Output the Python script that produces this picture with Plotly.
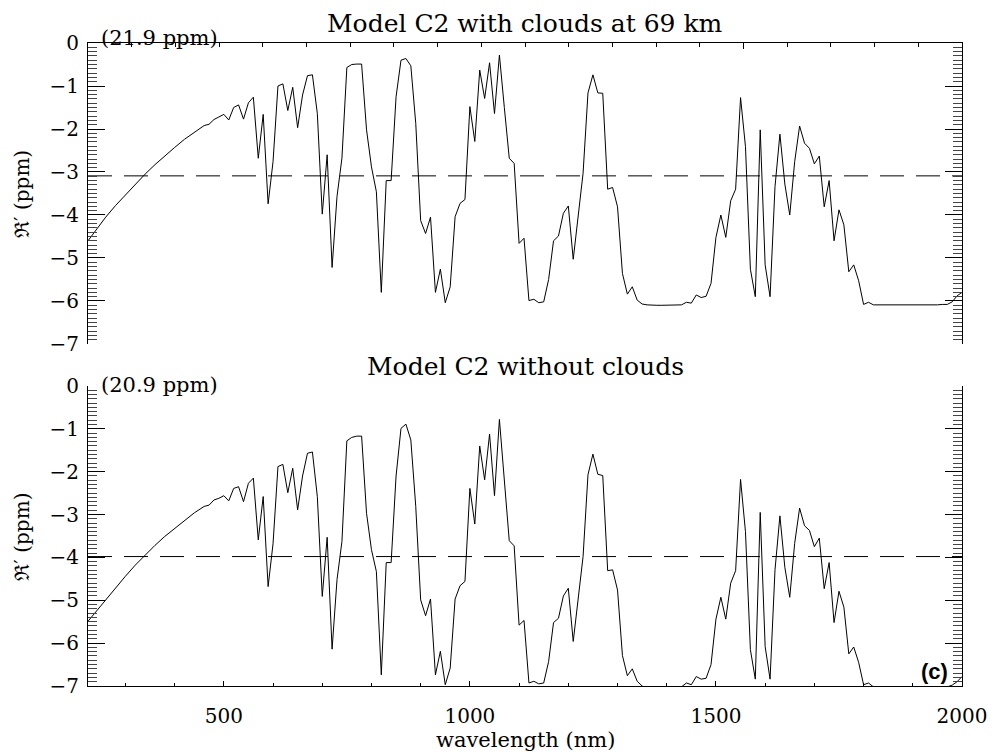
import plotly.graph_objects as go

# wavelength grid (nm): smooth part read at coarser steps, then ~10 nm sampling
wavelength = [224, 240, 260, 280, 300, 320, 340, 360, 380, 400, 420, 440, 460, 470, 480, 490, 500] + list(range(510, 2001, 10))

# Model C2 with clouds at 69 km (ppm)
with_clouds = [
    -4.60, -4.35, -4.05, -3.78, -3.53, -3.28, -3.05, -2.83, -2.62, -2.43, -2.24, -2.07, -1.92, -1.89, -1.78, -1.72, -1.66,
    -1.79, -1.50, -1.44, -1.77, -1.39, -1.26, -2.68, -1.66, -3.74, -2.76,
    -1.00, -0.95, -1.57, -1.03, -1.97, -1.21, -0.76, -0.74, -1.64, -3.98,
    -2.60, -5.22, -3.57, -2.68, -0.57, -0.50, -0.49, -0.49, -2.02, -2.88,
    -3.46, -5.80, -3.20, -3.20, -1.25, -0.40, -0.36, -0.53, -1.87, -4.13,
    -4.43, -4.05, -5.80, -5.26, -6.04, -5.67, -4.04, -3.73, -3.64, -1.48,
    -2.29, -0.63, -1.29, -0.46, -1.64, -0.28, -1.50, -2.68, -2.80, -4.66,
    -4.54, -5.99, -5.96, -6.04, -6.02, -5.50, -4.60, -4.49, -3.96, -3.79,
    -5.03, -4.04, -3.03, -1.16, -0.74, -1.16, -1.17, -3.40, -3.36, -3.81,
    -5.36, -5.84, -5.67, -5.98, -6.07, -6.09, -6.10, -6.10, -6.10, -6.10,
    -6.10, -6.09, -6.09, -6.03, -6.05, -5.86, -5.92, -5.89, -5.59, -4.52,
    -4.00, -4.52, -3.67, -3.40, -1.27, -2.41, -5.26, -5.90, -2.02, -5.16,
    -5.90, -3.34, -2.12, -3.28, -4.00, -2.76, -1.93, -2.33, -2.45, -2.81,
    -2.63, -3.81, -3.20, -4.60, -3.88, -4.23, -5.32, -5.16, -5.53, -6.08,
    -6.03, -6.09, -6.09, -6.10, -6.10, -6.10, -6.09, -6.09, -6.10, -6.10,
    -6.10, -6.09, -6.09, -6.09, -6.09, -6.08, -6.08, -6.02, -5.88, -5.80,
]

# Model C2 without clouds (ppm)
without_clouds = [
    -5.49, -5.27, -4.98, -4.70, -4.44, -4.18, -3.94, -3.72, -3.51, -3.32, -3.13, -2.96, -2.81, -2.78, -2.66, -2.62, -2.56,
    -2.68, -2.39, -2.35, -2.70, -2.27, -2.15, -3.59, -2.58, -4.68, -3.68,
    -1.88, -1.83, -2.49, -1.92, -2.89, -2.10, -1.57, -1.54, -2.58, -4.91,
    -3.53, -6.14, -4.52, -3.63, -1.28, -1.20, -1.17, -1.17, -2.97, -3.82,
    -4.33, -6.74, -4.12, -4.12, -2.10, -0.99, -0.89, -1.26, -2.81, -4.99,
    -5.36, -4.97, -6.74, -6.19, -6.97, -6.58, -4.97, -4.66, -4.56, -2.39,
    -3.22, -1.40, -2.19, -1.12, -2.56, -0.78, -2.15, -3.61, -3.73, -5.58,
    -5.47, -6.93, -6.89, -6.95, -6.93, -6.43, -5.52, -5.42, -4.90, -4.72,
    -5.96, -4.95, -3.98, -2.07, -1.59, -2.06, -2.09, -4.31, -4.29, -4.76,
    -6.29, -6.76, -6.60, -6.89, -7.00, -7.05, -7.05, -7.05, -7.05, -7.05,
    -7.05, -7.05, -7.02, -6.93, -6.97, -6.78, -6.84, -6.82, -6.50, -5.44,
    -4.93, -5.44, -4.60, -4.31, -2.18, -3.40, -6.15, -6.84, -2.95, -6.08,
    -6.84, -4.29, -3.03, -4.23, -4.93, -3.67, -2.85, -3.26, -3.37, -3.75,
    -3.55, -4.73, -4.12, -5.52, -4.79, -5.16, -6.25, -6.09, -6.45, -6.97,
    -6.93, -7.02, -7.02, -7.02, -7.02, -7.02, -7.02, -7.02, -7.02, -7.02,
    -7.02, -7.02, -7.02, -7.02, -7.02, -7.02, -7.02, -6.98, -6.90, -6.78,
]

# mean levels (dashed lines)
mean_with = -3.09
mean_without = -3.98

titles = ["Model C2 with clouds at 69 km", "Model C2 without clouds"]
amplitudes = ["(21.9 ppm)", "(20.9 ppm)"]
x_min, x_max = 224, 2000

serif = "DejaVu Serif"

fig = go.Figure()

fig.add_trace(go.Scatter(x=wavelength, y=with_clouds, mode="lines",
                         line=dict(color="black", width=1), xaxis="x", yaxis="y"))
fig.add_trace(go.Scatter(x=[x_min, x_max], y=[mean_with, mean_with], mode="lines",
                         line=dict(color="black", width=1, dash="24px,12px"), xaxis="x", yaxis="y"))
fig.add_trace(go.Scatter(x=wavelength, y=without_clouds, mode="lines",
                         line=dict(color="black", width=1), xaxis="x2", yaxis="y2"))
fig.add_trace(go.Scatter(x=[x_min, x_max], y=[mean_without, mean_without], mode="lines",
                         line=dict(color="black", width=1, dash="24px,12px"), xaxis="x2", yaxis="y2"))

yaxis_style = dict(
    range=[-7, 0], dtick=1, tick0=0, ticks="inside", ticklen=17, tickwidth=1,
    tickcolor="black", showline=True, linecolor="black", linewidth=1, mirror="ticks",
    showgrid=False, zeroline=False, ticklabelstandoff=4,
    tickfont=dict(family=serif, size=20, color="black"),
    minor=dict(dtick=0.1, ticks="inside", ticklen=9, tickcolor="#444444", tickwidth=1),
)

top_step = (x_max - x_min) / 20

# the page body adds an 8 px offset, so the figure is 8 px smaller with 8 px less on left/top
fig.update_layout(
    width=991, height=747,
    margin=dict(l=80, r=32, t=35, b=69),
    paper_bgcolor="white", plot_bgcolor="white",
    showlegend=False,
    xaxis=dict(
        domain=[0, 1], anchor="y", side="top", range=[x_min, x_max],
        showline=True, linecolor="black", linewidth=1, mirror=False,
        showgrid=False, zeroline=False, showticklabels=False,
        tickmode="array", tickvals=[x_min + 15 * top_step], ticks="inside", ticklen=6, tickcolor="black",
        minor=dict(tick0=x_min, dtick=top_step, ticks="inside", ticklen=4, tickcolor="black"),
    ),
    yaxis=dict(domain=[0.5319, 1], anchor="x", **yaxis_style),
    xaxis2=dict(
        domain=[0, 1], anchor="y2", side="bottom", range=[x_min, x_max],
        showline=True, linecolor="black", linewidth=1, mirror=False,
        showgrid=False, zeroline=False,
        tickmode="array", tickvals=[500, 1000, 1500, 2000], ticks="inside", ticklen=5,
        tickcolor="black", ticklabelstandoff=12,
        tickfont=dict(family=serif, size=20, color="black"),
        minor=dict(dtick=100, tick0=0, ticks="inside", ticklen=3, tickcolor="black"),
    ),
    yaxis2=dict(domain=[0, 0.4666], anchor="x2", **yaxis_style),
)

annotations = [
    dict(text=titles[0], x=0.5, y=1.03, xanchor="center", yanchor="middle",
         font=dict(family=serif, size=25, color="black")),
    dict(text=titles[1], x=0.5, y=0.497, xanchor="center", yanchor="middle",
         font=dict(family=serif, size=25, color="black")),
    dict(text=amplitudes[0], x=0.013, y=1.008, xanchor="left", yanchor="middle",
         font=dict(family=serif, size=21, color="black")),
    dict(text=amplitudes[1], x=0.013, y=0.468, xanchor="left", yanchor="middle",
         font=dict(family=serif, size=21, color="black")),
    dict(text="ℜ′ (ppm)", x=-0.075, y=0.766, textangle=-90, xanchor="center", yanchor="middle",
         font=dict(family=serif, size=20, color="black")),
    dict(text="ℜ′ (ppm)", x=-0.075, y=0.233, textangle=-90, xanchor="center", yanchor="middle",
         font=dict(family=serif, size=20, color="black")),
    dict(text="wavelength (nm)", x=0.5, y=-0.084, xanchor="center", yanchor="middle",
         font=dict(family=serif, size=21, color="black")),
    dict(text="<b>(c)</b>", x=0.969, y=0.023, xanchor="center", yanchor="middle",
         font=dict(family="Liberation Sans", size=22, color="black")),
]
for a in annotations:
    a.update(xref="paper", yref="paper", showarrow=False)
fig.update_layout(annotations=annotations)

fig.write_html("out.html")
